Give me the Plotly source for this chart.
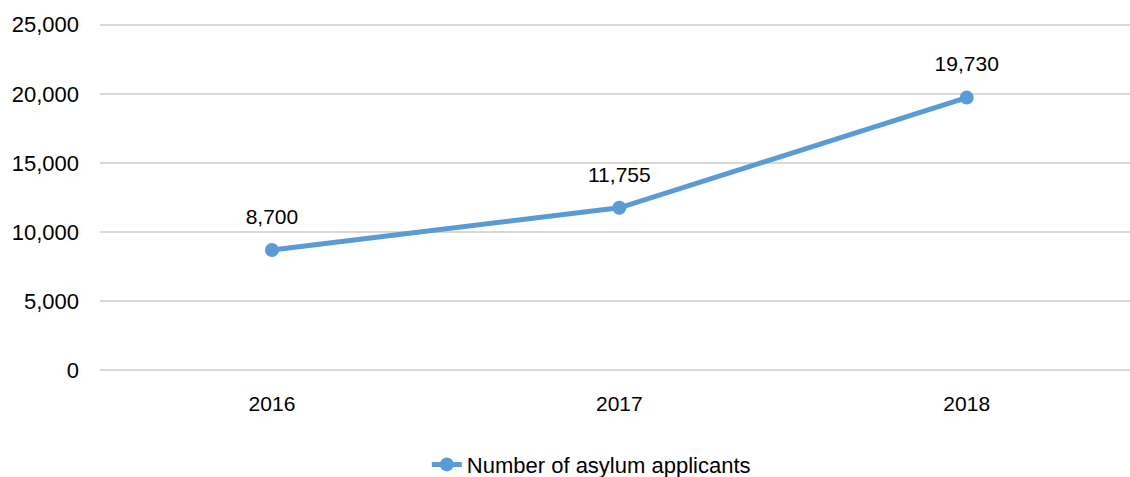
import plotly.graph_objects as go

years = ["2016", "2017", "2018"]
applicants = [8700, 11755, 19730]
labels = ["8,700", "11,755", "19,730"]
series_name = "Number of asylum applicants"

FONT = "Liberation Sans"
BLUE = "#5B9BD5"

fig = go.Figure()
fig.add_trace(go.Scatter(
    x=years, y=applicants, mode="lines+markers", name=series_name,
    line=dict(color=BLUE, width=5),
    marker=dict(color=BLUE, size=14),
))
# data labels (invisible large marker pushes the text above the point)
fig.add_trace(go.Scatter(
    x=years, y=applicants, mode="markers+text", text=labels,
    textposition="top center", showlegend=False, hoverinfo="skip",
    marker=dict(size=32, opacity=0),
    textfont=dict(family=FONT, size=21, color="#000000"),
))

fig.update_layout(
    width=1130, height=477,
    margin=dict(l=100, r=0, t=22, b=104, autoexpand=False),
    paper_bgcolor="white", plot_bgcolor="white",
    font=dict(family=FONT, size=21, color="#000000"),
    showlegend=True,
    legend=dict(orientation="h", x=0.477, xanchor="center",
                yref="container", y=0.026, yanchor="middle",
                font=dict(family=FONT, size=22, color="#000000")),
)
fig.update_xaxes(type="category", range=[-0.495, 2.47], showgrid=False, zeroline=False,
                 showline=False, ticks="", ticklabelstandoff=16)
fig.update_yaxes(range=[-200, 25200], tickvals=[0, 5000, 10000, 15000, 20000, 25000],
                 tickformat=",", tickfont=dict(family=FONT, size=22, color="#000000"),
                 showgrid=True, gridcolor="#D9D9D9", gridwidth=1.5,
                 zeroline=True, zerolinecolor="#D9D9D9", zerolinewidth=1.5,
                 showline=False, ticks="", ticklabelstandoff=20)

fig.write_html("out.html")
